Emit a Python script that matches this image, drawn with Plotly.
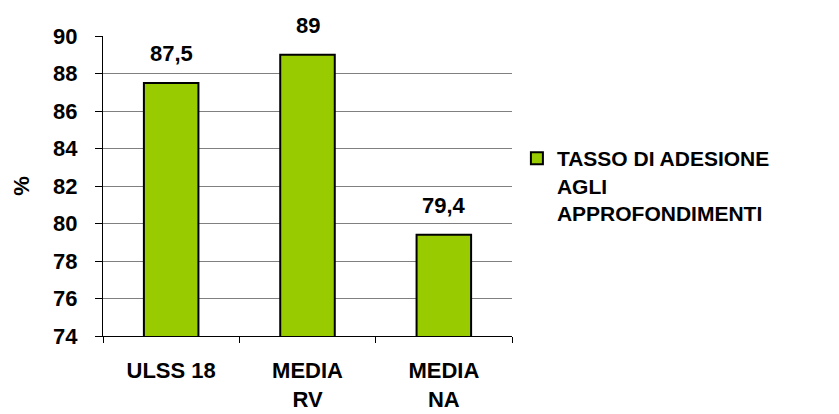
import plotly.graph_objects as go

# Data
categories = ["ULSS 18", "MEDIA<br>RV", "MEDIA<br>NA"]
values = [87.5, 89.0, 79.4]
series_name = "TASSO DI ADESIONE<br>AGLI<br>APPROFONDIMENTI"
y_ticks = [74, 76, 78, 80, 82, 84, 86, 88, 90]
y_title = "%"

FONT = "Liberation Sans, Arial, sans-serif"
GREEN = "#99CC00"


def fmt(v):
    s = f"{v:g}"
    return s.replace(".", ",")


def bold_font(size):
    return dict(family=FONT, size=size, color="black", weight="bold")


fig = go.Figure()
fig.add_trace(go.Bar(
    x=categories,
    y=values,
    name=series_name,
    width=0.4,
    marker=dict(color=GREEN, line=dict(color="black", width=2)),
    showlegend=True,
))

# value labels above the bars
for c, v in zip(categories, values):
    fig.add_annotation(
        x=c, y=v, text=fmt(v), showarrow=False,
        yanchor="bottom", yshift=15,
        font=bold_font(22),
    )

# rotated y-axis title
fig.add_annotation(
    text=y_title, xref="paper", yref="paper",
    x=-0.201, y=0.5, xanchor="center", yanchor="middle",
    textangle=-90, showarrow=False,
    font=bold_font(22),
)

fig.update_layout(
    width=839, height=414,
    margin=dict(l=103, r=327, t=36, b=78, autoexpand=False),
    paper_bgcolor="white",
    plot_bgcolor="white",
    font=bold_font(22),
    bargap=0.6,
    legend=dict(
        x=1.012, y=0.66, xanchor="left", yanchor="top",
        valign="top",
        font=bold_font(21),
        itemwidth=30,
        tracegroupgap=0,
    ),
    showlegend=True,
)

fig.update_xaxes(
    showline=True, linecolor="black", linewidth=1,
    ticks="outside", ticklen=6, tickcolor="black",
    tickson="boundaries",
    showgrid=False,
    automargin=False,
    ticklabelstandoff=15,
    tickfont=bold_font(22),
)

fig.update_yaxes(
    range=[74, 90],
    tickvals=y_ticks,
    ticktext=[str(t) for t in y_ticks],
    showline=True, linecolor="black", linewidth=1,
    ticks="outside", ticklen=7, tickcolor="black",
    showgrid=True, gridcolor="#808080", gridwidth=1,
    zeroline=False,
    automargin=False,
    ticklabelstandoff=13,
    tickfont=bold_font(22),
)

fig.write_html("out.html")
